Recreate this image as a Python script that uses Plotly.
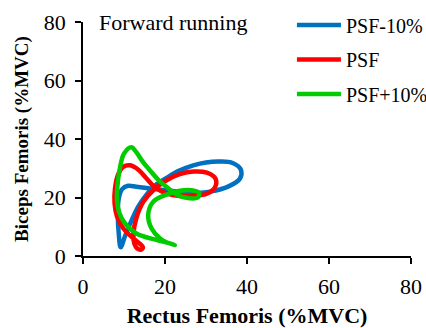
import plotly.graph_objects as go

# Data (Rectus Femoris %MVC vs Biceps Femoris %MVC)
psf_m10_x = [9.2, 8.7, 8.5, 8.7, 9.5, 11.0, 13.0, 16.3, 20.0, 23.6, 26.9, 31.0, 35.5, 38.3, 38.5, 36.5, 33.4, 30.0, 26.9, 23.5, 20.5, 17.5, 15.5, 13.5, 11.8, 10.3, 9.2]
psf_m10_y = [3.0, 8.0, 14.0, 19.5, 22.8, 24.0, 23.7, 23.1, 22.5, 22.0, 21.5, 22.0, 23.8, 26.5, 29.5, 31.8, 32.3, 32.0, 31.0, 29.2, 26.8, 24.0, 21.0, 17.0, 12.0, 7.0, 3.0]

psf_x = [14.6, 14.2, 13.2, 12.5, 12.3, 13.0, 14.7, 17.5, 20.4, 23.6, 27.0, 30.2, 32.3, 32.2, 30.2, 26.9, 23.5, 20.5, 17.5, 15.5, 13.5, 11.5, 9.8, 8.6, 7.8, 7.7, 8.3, 9.8, 11.8, 13.6, 14.6]
psf_y = [3.0, 2.2, 2.6, 4.3, 7.5, 12.9, 18.5, 23.0, 25.9, 28.0, 28.9, 28.5, 26.5, 23.5, 21.3, 20.6, 20.5, 21.3, 23.5, 26.5, 29.5, 31.0, 30.5, 28.0, 23.0, 18.0, 13.5, 9.5, 6.6, 4.5, 3.0]

psf_p10_x = [22.4, 20.5, 18.8, 16.7, 15.9, 17.1, 20.4, 23.6, 26.5, 28.3, 28.0, 25.5, 22.8, 20.5, 18.8, 16.5, 14.7, 13.0, 11.8, 10.0, 9.0, 8.4, 8.3, 8.8, 10.2, 13.0, 17.9, 21.0, 22.4]
psf_p10_y = [3.8, 4.6, 6.0, 9.5, 14.0, 18.5, 21.0, 22.3, 22.5, 21.6, 20.0, 19.8, 21.0, 23.5, 25.4, 29.0, 32.0, 35.5, 37.2, 35.0, 30.0, 24.0, 19.0, 15.0, 11.2, 7.7, 5.5, 4.4, 3.8]

series_names = ["PSF-10%", "PSF", "PSF+10%"]
series_colors = ["#0070C0", "#FF0000", "#00CC00"]
series_x = [psf_m10_x, psf_x, psf_p10_x]
series_y = [psf_m10_y, psf_y, psf_p10_y]

tick_vals = [0, 20, 40, 60, 80]

FONT = "Liberation Serif"

fig = go.Figure()
for name, color, xs, ys in zip(series_names, series_colors, series_x, series_y):
    fig.add_trace(go.Scatter(
        x=xs, y=ys, mode="lines", name=name, legendgroup=name,
        line=dict(color=color, width=4.5, shape="spline", smoothing=1.0),
    ))

fig.update_layout(
    width=426, height=328,
    margin=dict(l=83, r=15, t=22, b=72, autoexpand=False),
    paper_bgcolor="white", plot_bgcolor="white",
    font=dict(family=FONT, size=20, color="black"),
    showlegend=True,
    legend=dict(x=0.637, y=1.07, xanchor="left", yanchor="top",
                bgcolor="rgba(0,0,0,0)", font=dict(family=FONT, size=20, color="black"),
                tracegroupgap=5.5, itemwidth=44),
    annotations=[dict(x=0.044, y=1.0, xref="paper", yref="paper", text="Forward running",
                      showarrow=False, xanchor="left", yanchor="middle",
                      font=dict(family=FONT, size=22, color="black"))],
)
fig.update_xaxes(
    range=[0, 80], tickvals=tick_vals, showgrid=False, zeroline=False,
    showline=True, linecolor="black", linewidth=1.5,
    ticks="outside", ticklen=6, tickwidth=1.5, tickcolor="black",
    tickfont=dict(family=FONT, size=22), ticklabelstandoff=4,
    title=dict(text="<b>Rectus Femoris (%MVC)</b>", font=dict(family=FONT, size=22), standoff=12),
)
fig.update_yaxes(
    range=[0, 80], tickvals=tick_vals, showgrid=False, zeroline=False,
    showline=True, linecolor="black", linewidth=1.5,
    ticks="outside", ticklen=6, tickwidth=1.5, tickcolor="black",
    tickfont=dict(family=FONT, size=22), ticklabelstandoff=5,
    title=dict(text="<b>Biceps Femoris (%MVC)</b>", font=dict(family=FONT, size=19), standoff=10),
)

fig.write_html("out.html")
